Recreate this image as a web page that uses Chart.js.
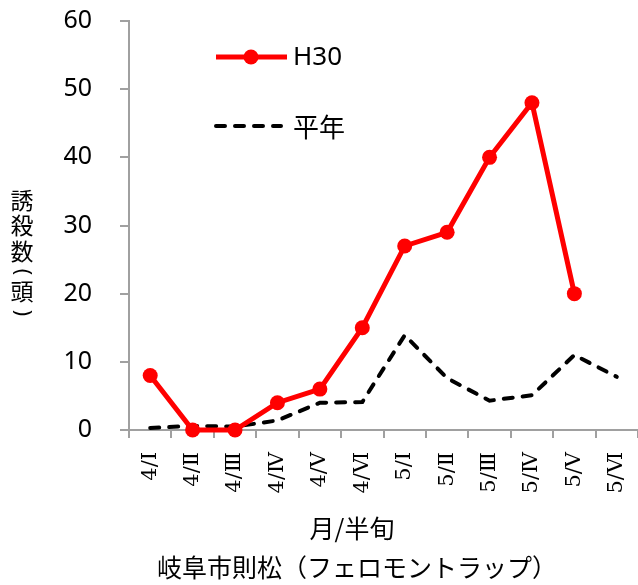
<!DOCTYPE html>
<html lang="ja">
<head>
<meta charset="utf-8">
<title>誘殺数</title>
<script src="https://cdn.jsdelivr.net/npm/chart.js@4.4.1/dist/chart.umd.min.js"></script>
<style>
  html, body { margin: 0; padding: 0; background: #fff; }
  #wrap { position: relative; width: 638px; height: 585px; }
</style>
</head>
<body>
<div id="wrap"><canvas id="grafico"></canvas></div>
<script>
// ===== DADOS =====
const hanjun = ['4/Ⅰ', '4/Ⅱ', '4/Ⅲ', '4/Ⅳ', '4/Ⅴ', '4/Ⅵ', '5/Ⅰ', '5/Ⅱ', '5/Ⅲ', '5/Ⅳ', '5/Ⅴ', '5/Ⅵ'];
const h30 = [8, 0, 0, 4, 6, 15, 27, 29, 40, 48, 20, null];
const heinen = [0.3, 0.6, 0.5, 1.4, 4.0, 4.1, 13.9, 7.6, 4.3, 5.1, 11.0, 7.8];
const yTicks = [0, 10, 20, 30, 40, 50, 60];

const AXIS_GRAY = '#a0a0a0';
const FONT_JP = '"Noto Sans CJK JP", "Noto Sans", sans-serif';

// ===== LEGENDA (linha + marcador) =====
const legendaLinha = {
    id: 'legendaLinha',
    afterDraw(chart) {
        const ctx = chart.ctx;
        const rows = [57, 126];
        ctx.save();
        chart.data.datasets.forEach((ds, i) => {
            const y = rows[i];
            ctx.strokeStyle = ds.borderColor;
            ctx.lineWidth = ds.borderWidth;
            ctx.lineCap = ds.borderCapStyle || 'butt';
            ctx.setLineDash(ds.borderDash || []);
            ctx.beginPath();
            ctx.moveTo(216, y);
            ctx.lineTo(i === 0 ? 287 : 281, y);
            ctx.stroke();
            ctx.setLineDash([]);
            if (ds.pointRadius > 0) {
                ctx.fillStyle = ds.pointBackgroundColor;
                ctx.beginPath();
                ctx.arc(251, y, ds.pointRadius, 0, Math.PI * 2);
                ctx.fill();
            }
            ctx.fillStyle = '#000';
            ctx.textBaseline = 'middle';
            ctx.textAlign = 'left';
            ctx.font = i === 0 ? '26px "Noto Sans", sans-serif' : '26px ' + FONT_JP;
            ctx.fillText(ds.label, 293, y + 1);
        });
        ctx.restore();
    }
};

// ===== TITULOS (eixo Y vertical + rodape) =====
const titulos = {
    id: 'titulos',
    afterDraw(chart) {
        const ctx = chart.ctx;
        ctx.save();
        ctx.fillStyle = '#000';
        ctx.textAlign = 'center';
        ctx.textBaseline = 'middle';

        // caracteres empilhados, parenteses girados
        ctx.font = '23px ' + FONT_JP;
        ['誘', '殺', '数', '頭'].forEach((c, i) => ctx.fillText(c, 22, [200, 225, 251, 291][i]));
        ctx.font = '21px "Noto Sans", sans-serif';
        [['(', 272], [')', 313]].forEach(([c, y]) => {
            ctx.save();
            ctx.translate(22, y);
            ctx.rotate(Math.PI / 2);
            ctx.fillText(c, 0, 0);
            ctx.restore();
        });

        ctx.font = '25px ' + FONT_JP;
        ctx.fillText('月/半旬', 352, 528);
        ctx.fillText('岐阜市則松（フェロモントラップ）', 357, 567);
        ctx.restore();
    }
};

const ctx = document.getElementById('grafico').getContext('2d');

window.grafico = new Chart(ctx, {
    type: 'line',
    data: {
        labels: hanjun,
        datasets: [
            {
                label: 'H30',
                data: h30,
                borderColor: '#ff0000',
                backgroundColor: '#ff0000',
                pointBackgroundColor: '#ff0000',
                pointBorderColor: '#ff0000',
                borderWidth: 5,
                pointRadius: 7.5,
                pointBorderWidth: 0,
                tension: 0,
                fill: false,
                clip: false,
                order: 0
            },
            {
                label: '平年',
                data: heinen,
                borderColor: '#000000',
                backgroundColor: '#000000',
                borderWidth: 4,
                borderDash: [9, 10],
                borderCapStyle: 'round',
                pointRadius: 0,
                tension: 0,
                fill: false,
                clip: false,
                order: 1
            }
        ]
    },
    options: {
        responsive: true,
        maintainAspectRatio: false,
        animation: false,
        layout: { padding: 0, autoPadding: false },
        plugins: {
            legend: { display: false },
            tooltip: { enabled: false }
        },
        scales: {
            x: {
                offset: true,
                grid: {
                    offset: true,
                    drawOnChartArea: false,
                    drawTicks: true,
                    tickLength: 8,
                    color: AXIS_GRAY,
                    lineWidth: 2
                },
                border: { color: AXIS_GRAY, width: 2 },
                ticks: {
                    autoSkip: false,
                    minRotation: 90,
                    maxRotation: 90,
                    padding: 14,
                    color: '#000',
                    font: { family: '"DejaVu Serif", "Liberation Serif", serif', size: 21 }
                },
                afterFit: (s) => {
                    s.height = 155;
                    s.paddingLeft = 0;
                    s.paddingRight = 0;
                }
            },
            y: {
                min: 0,
                max: 60,
                afterBuildTicks: (s) => { s.ticks = yTicks.map(v => ({ value: v })); },
                grid: {
                    drawOnChartArea: false,
                    drawTicks: true,
                    tickLength: 9,
                    color: AXIS_GRAY,
                    lineWidth: 2
                },
                border: { color: AXIS_GRAY, width: 2 },
                ticks: {
                    padding: 28,
                    color: '#000',
                    font: { family: '"Noto Sans", sans-serif', size: 25 }
                },
                afterFit: (s) => {
                    s.width = 129;
                    s.paddingTop = 21;
                    s.paddingBottom = 0;
                }
            }
        }
    },
    plugins: [legendaLinha, titulos]
});
</script>
</body>
</html>
